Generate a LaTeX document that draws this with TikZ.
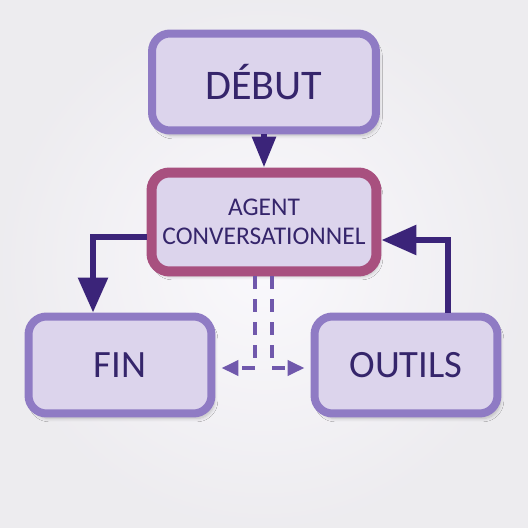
\documentclass[tikz,border=0pt]{standalone}
\usepackage{fontspec}
\setmainfont{Carlito}
\usetikzlibrary{arrows.meta,shadows.blur}

\definecolor{boxfill}{HTML}{DCD4EC}
\definecolor{boxline}{HTML}{8F7BC4}
\definecolor{agentline}{HTML}{A8507F}
\definecolor{labeltext}{HTML}{35256B}
\definecolor{flowline}{HTML}{3B2479}
\definecolor{toolline}{HTML}{7058AC}

\tikzset{
    stepnode/.style={rectangle,rounded corners=0.36cm,draw=boxline,fill=boxfill,
        line width=0.16cm,text=labeltext,align=center,
        blur shadow={shadow xshift=0.06cm,shadow yshift=-0.1cm,shadow opacity=22,shadow blur steps=8}},
    flow/.style={draw=flowline,line width=0.12cm},
    dashtool/.style={draw=toolline,line width=0.08cm,dash pattern=on 0.26cm off 0.2cm,
        -{Triangle[length=0.34cm,width=0.3cm]},shorten >=0.12cm}
}

\begin{document}
\begin{tikzpicture}[x=0.02cm,y=-0.02cm]
    \providecommand{\bigfontsize}{\fontsize{24pt}{28pt}\selectfont}
    \providecommand{\smallfontsize}{\fontsize{14.5pt}{16.5pt}\selectfont}
    % background
    \shade[inner color=white!70!boxfill!50,outer color=boxfill!60!gray!25] (0,0) rectangle (528,528);
    \useasboundingbox (0,0) rectangle (528,528);

    \node[stepnode,font=\bigfontsize,minimum width=4.48cm,minimum height=1.94cm] (debut) at (264,82) {DÉBUT};
    \node[stepnode,font=\smallfontsize,draw=agentline,line width=0.2cm,minimum width=4.5cm,minimum height=1.98cm] (agent) at (264,222)
        {AGENT\\CONVERSATIONNEL};
    \node[stepnode,font=\fontsize{22pt}{26pt}\selectfont,minimum width=3.66cm,minimum height=1.94cm] (fin) at (120,365) {FIN};
    \node[stepnode,font=\fontsize{22pt}{26pt}\selectfont,minimum width=3.66cm,minimum height=1.94cm] (outils) at (406,365) {OUTILS};

    \draw[flow,-{Triangle[length=0.62cm,width=0.46cm]}] (debut.south) -- (agent.north);
    \draw[flow,-{Triangle[length=0.7cm,width=0.58cm]}] ([yshift=-0.3cm]agent.west) -| ([xshift=-0.54cm]fin.north);
    \draw[flow,-{Triangle[length=0.7cm,width=0.58cm]}] ([xshift=0.84cm]outils.north) |- ([yshift=-0.36cm]agent.east);

    \draw[dashtool] ([xshift=-0.18cm]agent.south) |- ([yshift=-0.06cm]fin.east);
    \draw[dashtool] ([xshift=0.16cm]agent.south) |- ([yshift=-0.06cm]outils.west);
\end{tikzpicture}
\end{document}
